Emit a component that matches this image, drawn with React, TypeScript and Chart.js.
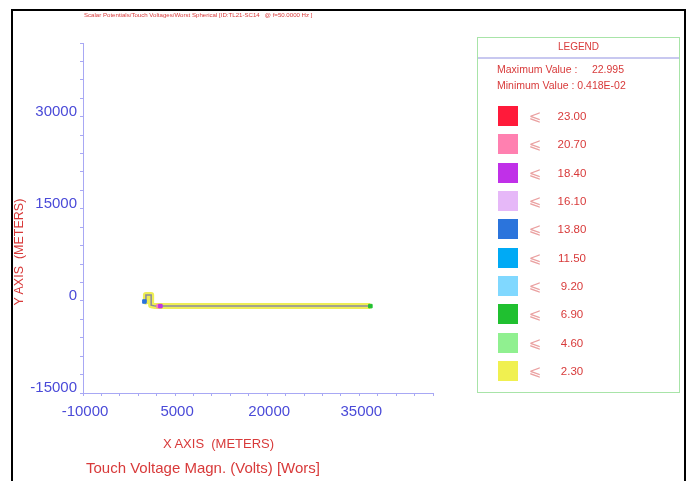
import React, { useEffect, useRef } from "react";
import { Chart, registerables } from "chart.js";
Chart.register(...registerables);

const TITLE = "Scalar Potentials/Touch Voltages/Worst Spherical [ID:TL21-SC14   @ f=50.0000 Hz ]";
const X_TITLE = "X AXIS  (METERS)";
const Y_TITLE = "Y AXIS  (METERS)";
const CAPTION = "Touch Voltage Magn. (Volts) [Wors]";

// conductor path (meters)
const pathX = [0, 250, 250, 1100, 1100, 1800, 36800];
const pathY = [-100, -100, 950, 950, -700, -850, -850];

// coloured segment markers
const markerX = [0, 2300, 2600, 36800];
const markerY = [-100, -850, -850, -850];
const markerColors = ["#2b74dc", "#ff80b0", "#c030e8", "#20c030"];

const X_MIN = -10000;
const X_MAX = 47000;
const Y_MIN = -15000;
const Y_MAX = 42000;
const STEP = 3000;
const LABEL_STEP = 15000;

const MAX_VALUE = "22.995";
const MIN_VALUE = "0.418E-02";
const legendLevels = ["23.00", "20.70", "18.40", "16.10", "13.80", "11.50", "9.20", "6.90", "4.60", "2.30"];
const legendColors = ["#ff1a3a", "#ff80b0", "#c030e8", "#e6b8f8", "#2b74dc", "#00aaf5", "#80d8ff", "#20c030", "#90f090", "#f0f050"];

const FONT = '"Liberation Sans", Arial, sans-serif';
const RED = "#d83a3a";
const BLUE = "#4a4ad8";
const AXIS = "#a8a8f4";

export default function App() {
  const ref = useRef<HTMLCanvasElement>(null);
  useEffect(() => {
    if (!ref.current) return;
    const path = pathX.map((x, i) => ({ x, y: pathY[i] }));
    const markers = markerX.map((x, i) => ({ x, y: markerY[i] }));
    const chart = new Chart(ref.current, {
      type: "scatter",
      data: {
        datasets: [
          {
            data: markers,
            pointRadius: 2.5,
            pointStyle: "rect",
            pointBackgroundColor: markerColors,
            pointBorderColor: markerColors,
            showLine: false,
          },
          {
            data: path,
            showLine: true,
            borderColor: "#8a8aa0",
            borderWidth: 1.5,
            pointRadius: 0,
          },
          {
            data: path,
            showLine: true,
            borderColor: "#eeee55",
            borderWidth: 6,
            borderJoinStyle: "round",
            pointRadius: 0,
          },
        ],
      },
      options: {
        animation: false,
        responsive: false,
        events: [],
        layout: { padding: { top: 43, right: 256, bottom: 58, left: 0 } },
        plugins: { legend: { display: false }, tooltip: { enabled: false }, title: { display: false } },
        scales: {
          x: {
            type: "linear",
            min: X_MIN,
            max: X_MAX,
            afterFit: (s: any) => {
              s.height = 30;
            },
            ticks: {
              stepSize: STEP,
              autoSkip: false,
              maxRotation: 0,
              padding: 7,
              labelOffset: 2,
              color: BLUE,
              font: { family: FONT, size: 15 },
              callback: (v: any) => ((Number(v) - X_MIN) % LABEL_STEP === 0 ? String(v) : ""),
            },
            grid: { drawOnChartArea: false, drawTicks: true, tickLength: 3, color: AXIS },
            border: { display: true, color: AXIS, width: 1 },
          },
          y: {
            type: "linear",
            min: Y_MIN,
            max: Y_MAX,
            afterFit: (s: any) => {
              s.width = 83;
            },
            ticks: {
              stepSize: STEP,
              autoSkip: false,
              padding: 3,
              labelOffset: -5,
              color: BLUE,
              font: { family: FONT, size: 15 },
              callback: (v: any) => (Number(v) % LABEL_STEP === 0 ? String(v) : ""),
            },
            grid: { drawOnChartArea: false, drawTicks: true, tickLength: 3, color: AXIS },
            border: { display: true, color: AXIS, width: 1 },
          },
        },
      },
    });
    return () => chart.destroy();
  }, []);

  const abs = (o: React.CSSProperties): React.CSSProperties => ({ position: "absolute", ...o });

  return (
    <div style={{ position: "absolute", left: 0, top: 0, width: 689, height: 481, background: "#fff", overflow: "hidden", fontFamily: FONT }}>
      <canvas ref={ref} width={689} height={481} style={abs({ left: 0, top: 0, width: 689, height: 481 })} />
      {/* frame */}
      <div style={abs({ left: 11, top: 9, width: 675, height: 500, borderTop: "2px solid #000", borderLeft: "2px solid #000", borderRight: "2px solid #000", boxSizing: "border-box" })} />
      {/* title */}
      <div style={abs({ left: 84, top: 11, fontSize: 6.1, color: RED, whiteSpace: "pre", lineHeight: "8px" })}>{TITLE}</div>
      {/* axis titles */}
      <div style={abs({ left: 0, top: 436, width: 437, textAlign: "center", fontSize: 13, color: RED, whiteSpace: "pre", lineHeight: "16px" })}>{X_TITLE}</div>
      <div style={abs({ left: 86, top: 459, fontSize: 15, color: RED, whiteSpace: "pre", lineHeight: "18px" })}>{CAPTION}</div>
      <div style={abs({ left: 19 - 60, top: 252 - 8, width: 120, textAlign: "center", fontSize: 12.5, color: RED, whiteSpace: "pre", lineHeight: "16px", transform: "rotate(-90deg)", transformOrigin: "60px 8px" })}>{Y_TITLE}</div>
      {/* legend */}
      <div style={abs({ left: 477, top: 37, width: 203, height: 356, border: "1px solid #a8e4a8", boxSizing: "border-box" })}>
        <div style={abs({ left: 0, top: 3, width: 201, textAlign: "center", fontSize: 10, color: RED, lineHeight: "12px" })}>LEGEND</div>
        <div style={abs({ left: 0, top: 19, width: 201, height: 2, background: "#c8c8f0" })} />
        <div style={abs({ left: 19, top: 25, fontSize: 10.5, color: RED, whiteSpace: "pre", lineHeight: "13px" })}>{"Maximum Value :     " + MAX_VALUE}</div>
        <div style={abs({ left: 19, top: 41, fontSize: 10.5, color: RED, whiteSpace: "pre", lineHeight: "13px" })}>{"Minimum Value : " + MIN_VALUE}</div>
        {legendLevels.map((lv, i) => {
          const cy = 115 + i * 28.33 - 37;
          return (
            <React.Fragment key={lv}>
              <div style={abs({ left: 20, top: cy - 10, width: 20, height: 20, background: legendColors[i], boxShadow: "0 0 0 0.5px rgba(255,255,255,0.8)" })} />
              <div style={abs({ left: 47, top: cy - 10, width: 20, textAlign: "center", fontSize: 15, color: "#eaa0a0", lineHeight: "20px", fontFamily: '"DejaVu Sans", sans-serif' })}>⩽</div>
              <div style={abs({ left: 74, top: cy - 7, width: 40, textAlign: "center", fontSize: 11.5, color: RED, lineHeight: "14px" })}>{lv}</div>
            </React.Fragment>
          );
        })}
      </div>
    </div>
  );
}
